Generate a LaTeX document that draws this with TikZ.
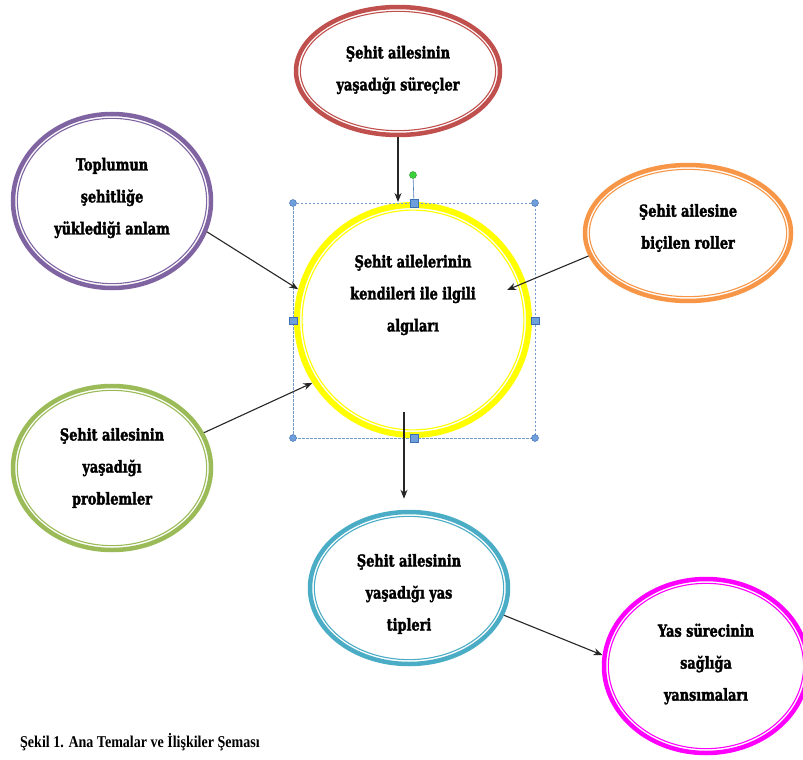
\documentclass[tikz,border=0pt]{standalone}
\usepackage{fontspec}
\newfontfamily\nodefont[FakeStretch=0.78, BoldFeatures={FakeBold=2}]{DejaVu Serif}
\newfontfamily\capfont[FakeStretch=0.85]{Liberation Serif}
\usetikzlibrary{shapes.geometric,arrows.meta,calc}
\definecolor{cred}{HTML}{C0504D}
\definecolor{cpurple}{HTML}{8064A2}
\definecolor{corange}{HTML}{F79646}
\definecolor{cgreen}{HTML}{9BBB59}
\definecolor{ccyan}{HTML}{4BACC6}
\definecolor{cmag}{HTML}{FF00FF}
\definecolor{cyel}{HTML}{FFFF00}
\definecolor{selblue}{HTML}{4F81BD}
\definecolor{handle}{HTML}{6E9FDB}
\definecolor{handleedge}{HTML}{3E6EB4}
\definecolor{rotgreen}{HTML}{3CD23C}
\newcommand\ringnode[9]{% name, x, y, rx, ry, colour, outer width, text y offset, text
  \node[ring=#6, line width=#7pt, minimum width={2*#4pt}, minimum height={2*#5pt}] (#1) at (#2,#3) {};
  \draw[#6, line width=1.1pt] (#1.center) ellipse [x radius={#4-0.5*#7-2.1}, y radius={#5-0.5*#7-2.1}];
  \node[txt] (#1t) at ($(#1.center)+(0,#8)$) {#9};
}
\begin{document}
\begin{tikzpicture}[x=1pt,y=-1pt,
  ring/.style={ellipse, draw=#1, inner sep=0pt},
  txt/.style={align=center, inner sep=0pt, font=\nodefont\bfseries\fontsize{16.5}{32}\selectfont},
  arr/.style={-{Stealth[length=9pt,width=7pt]}, line width=1.1pt, black!85},
  hcirc/.style={circle, fill=handle, draw=handleedge, line width=0.4pt, minimum size=7pt, inner sep=0pt},
  hsq/.style={rectangle, fill=handle, draw=handleedge, line width=0.5pt, minimum size=7.5pt, inner sep=0pt},
  capstyle/.style={anchor=west, inner sep=0pt, font=\capfont\bfseries\fontsize{16.5}{19}\selectfont}]
\useasboundingbox[fill=white] (0,0) rectangle (803,760);

\ringnode{proc}{398}{71}{102}{64}{cred}{4.5}{-1}{Şehit ailesinin\\yaşadığı süreçler}
\ringnode{anlam}{112}{201}{99}{87}{cpurple}{4.5}{-3}{Toplumun\\şehitliğe\\yüklediği anlam}
\ringnode{roles}{688}{233}{103}{68}{corange}{4.5}{-5}{Şehit ailesine\\biçilen roller}
\ringnode{yel}{413}{320}{116}{115}{cyel}{6}{-25}{Şehit ailelerinin\\kendileri ile ilgili\\algıları}
\ringnode{prob}{112}{468}{99}{82}{cgreen}{4.5}{0}{Şehit ailesinin\\yaşadığı\\problemler}
\ringnode{yas}{409}{588}{99}{76}{ccyan}{4.5}{6}{Şehit ailesinin\\yaşadığı yas\\tipleri}
\ringnode{mag}{706}{666}{102}{87}{cmag}{4.5}{-2}{Yas sürecinin\\sağlığa\\yansımaları}

% selection frame around the central ellipse
\coordinate (s1) at (293,203);
\coordinate (s2) at (535,203);
\coordinate (s3) at (535,438);
\coordinate (s4) at (293,438);
\coordinate (rot) at (413,175);
\draw[selblue!80, line width=0.7pt, dash pattern=on 2.5pt off 1.5pt] (s1) rectangle (s3);
\draw[selblue, line width=0.6pt] (rot) -- ($(s1)!0.5!(s2)$);
\node[circle, fill=rotgreen, draw=rotgreen!70!black, line width=0.4pt, minimum size=7pt, inner sep=0pt] (rotdot) at (rot) {};
\foreach \c in {s1,s2,s3,s4} \node[hcirc] at (\c) {};
\node[hsq] (m1) at ($(s1)!0.5!(s2)$) {};
\node[hsq] (m2) at ($(s2)!0.5!(s3)$) {};
\node[hsq] (m3) at ($(s3)!0.5!(s4)$) {};
\node[hsq] (m4) at ($(s4)!0.5!(s1)$) {};

% connectors
\coordinate (ore) at ($(yel.center)+(94,-30)$);
\coordinate (ys) at ($(yel.center)+(-9,92)$);
\coordinate (ye) at ($(yas.north)+(-5,-11)$);
\draw[arr] (proc.south) -- (proc.south |- yel.north);
\draw[arr] (anlam.-18) -- (yel.165);
\draw[arr] (roles.193) -- (ore);
\draw[arr] (prob.21) -- (yel.212);
\draw[arr] (ys) -- (ye);
\draw[arr] (yas.-16) -- (mag.174);

\node[capstyle] (cap) at (20,742) {Şekil 1. Ana Temalar ve İlişkiler Şeması};
\end{tikzpicture}
\end{document}
